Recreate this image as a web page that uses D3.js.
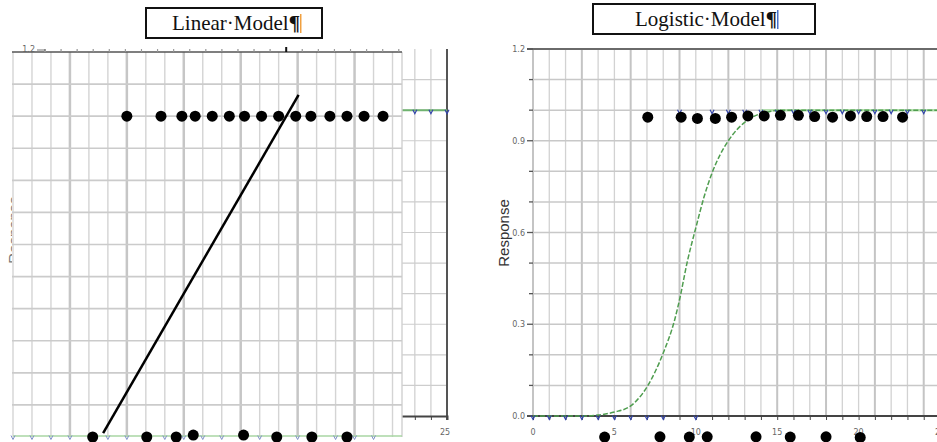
<!DOCTYPE html>
<html>
<head>
<meta charset="utf-8">
<script src="https://cdn.jsdelivr.net/npm/d3@7"></script>
<style>
  body { margin: 0; background: #fff; }
  svg { display: block; }
  .tick-label { font-family: "DejaVu Sans", sans-serif; font-size: 8px; fill: #666; }
  .title { font-family: "Liberation Serif", serif; font-size: 21px; fill: #111; }
  .ylab { font-family: "Liberation Sans", Arial, sans-serif; font-size: 15px; fill: #333; }
</style>
</head>
<body>
<svg id="chart" width="937" height="442"></svg>
<script>
// ---- values ----

// linear model panel (units of its own grid)
var linTopX = [6.0, 7.8, 8.9, 9.6, 10.5, 11.4, 12.2, 13.1, 14.0, 14.9, 15.7, 16.7, 17.6, 18.5, 19.5];
var linTopY = [1.0, 1.0, 1.0, 1.0, 1.0, 1.0, 1.0, 1.0, 1.0, 1.0, 1.0, 1.0, 1.0, 1.0, 1.0];
var linBotX = [4.2, 7.05, 8.6, 9.5, 12.15, 13.9, 15.75, 17.6];
var linBotY = [0, 0, 0, 0.006, 0.006, 0, 0, 0];
var linFitX = [4.75, 15.05];
var linFitY = [0.012, 1.066];
var linMarkX = [0, 1, 2, 3, 5, 6, 8, 9, 10, 11, 13, 15, 17, 18, 19];
// the bit of the older chart that shows to the right of the linear grid
var edgeMarkX = [23, 24, 25];

// logistic model panel
var logTopX = [7.05, 9.1, 10.1, 11.2, 12.2, 13.2, 14.2, 15.2, 16.3, 17.3, 18.4, 19.5, 20.5, 21.5, 22.7];
var logTopY = [0.977, 0.977, 0.973, 0.973, 0.977, 0.981, 0.981, 0.983, 0.983, 0.979, 0.977, 0.981, 0.979, 0.979, 0.977];
var logBotX = [4.4, 7.8, 9.6, 10.7, 13.7, 15.8, 18.0, 20.1];
var logBotY = [-0.069, -0.068, -0.069, -0.068, -0.068, -0.069, -0.068, -0.07];
var curveX = [0, 1, 2, 3, 4, 5, 6, 7, 8, 8.7, 9, 9.5, 10, 10.5, 11, 11.5, 12, 12.5, 13, 13.5, 14.5, 15, 18, 22, 25];
var curveY = [0, 0, 0, 0, 0.003, 0.013, 0.033, 0.095, 0.206, 0.314, 0.38, 0.51, 0.615, 0.715, 0.795, 0.855, 0.9, 0.935, 0.96, 0.978, 0.995, 1, 1, 1, 1];
var markLowX = [0, 1, 2, 3, 4, 5, 6, 7, 8, 10];
var markHighX = [9, 11, 12, 13, 14, 15, 16, 17, 18, 19, 20, 21, 22, 23, 24, 25];
var yTickLabels = [0, 0.3, 0.6, 0.9, 1.2];
var xTickLabels = [0, 5, 10, 15, 20, 25];

var svg = d3.select("#chart");
var gridColor = "#cdcdcd";
var markPath = "M-2,-2.5L0,1.5L2,-2.5";

// ---------------- left: linear model ----------------
var left = svg.append("g");

// chart lying underneath the linear grid
var xB = d3.scaleLinear().domain([0, 25]).range([45, 447]);
var yB = d3.scaleLinear().domain([0, 1.2]).range([416, 49]);

// cut off axis title of the underlying chart
left.append("text")
    .attr("class", "ylab")
    .attr("transform", "translate(19,230) rotate(-90)")
    .attr("text-anchor", "middle")
    .style("fill", "#777")
    .text("Response");

left.append("g").selectAll("line")
    .data(d3.range(0, 26))
  .enter().append("line")
    .attr("x1", function(d) { return xB(d); })
    .attr("x2", function(d) { return xB(d); })
    .attr("y1", yB(1.2)).attr("y2", yB(0))
    .style("stroke", gridColor).style("stroke-width", 1.2);

left.append("g").selectAll("line")
    .data(d3.range(1, 12))
  .enter().append("line")
    .attr("x1", xB(0)).attr("x2", xB(25))
    .attr("y1", function(d) { return yB(d / 10); })
    .attr("y2", function(d) { return yB(d / 10); })
    .style("stroke", gridColor).style("stroke-width", 1.2);

left.append("line")
    .attr("x1", xB(25)).attr("x2", xB(25))
    .attr("y1", yB(1.2)).attr("y2", yB(0) + 4)
    .style("stroke", "#555").style("stroke-width", 2);

left.append("g")
    .attr("transform", "translate(0," + yB(0) + ")")
    .call(d3.axisBottom(xB).tickValues(d3.range(0, 26)).tickSize(4).tickFormat(""))
    .call(function(g) {
      g.select(".domain").style("stroke", "#444").style("stroke-width", 2);
      g.selectAll(".tick line").style("stroke", "#444");
    });

left.append("text")
    .attr("class", "tick-label")
    .attr("x", xB(25) - 2).attr("y", yB(0) + 19)
    .attr("text-anchor", "middle")
    .text("25");

left.append("line")
    .attr("x1", xB(22)).attr("x2", xB(25))
    .attr("y1", yB(1)).attr("y2", yB(1))
    .style("stroke", "#6fb36f").style("stroke-width", 2);

left.append("g").selectAll("path")
    .data(edgeMarkX)
  .enter().append("path")
    .attr("transform", function(d) { return "translate(" + xB(d) + "," + (yB(1) + 2) + ")"; })
    .attr("d", markPath)
    .style("fill", "none").style("stroke", "#3344aa").style("stroke-width", 1.2);

// the linear model grid on top
var xL = d3.scaleLinear().domain([0, 20.5]).range([13, 402]);
var yL = d3.scaleLinear().domain([0, 1.2]).range([437, 52]);

left.append("rect")
    .attr("x", xL(0) - 1).attr("y", yL(1.2))
    .attr("width", xL(20.5) - xL(0) + 1)
    .attr("height", yL(0) - yL(1.2) + 5)
    .style("fill", "#fff");

left.append("g").selectAll("line")
    .data(d3.range(0, 21))
  .enter().append("line")
    .attr("x1", function(d) { return xL(d); })
    .attr("x2", function(d) { return xL(d); })
    .attr("y1", yL(1.2)).attr("y2", yL(0))
    .style("stroke", function(d) { return d % 3 === 0 && d > 0 ? "#c6c6c6" : "#d4d4d4"; })
    .style("stroke-width", function(d) { return d % 3 === 0 && d > 0 ? 2.5 : 1.4; });

left.append("line")
    .attr("x1", xL(20.5)).attr("x2", xL(20.5))
    .attr("y1", yL(1.2)).attr("y2", yL(0))
    .style("stroke", "#d0d0d0").style("stroke-width", 1.4);

left.append("g").selectAll("line")
    .data(d3.range(1, 12))
  .enter().append("line")
    .attr("x1", xL(0) - 1).attr("x2", xL(20.5))
    .attr("y1", function(d) { return yL(d / 10); })
    .attr("y2", function(d) { return yL(d / 10); })
    .style("stroke", "#cbcbcb").style("stroke-width", 1.6);

// top edge with the ticks of the chart below
left.append("line")
    .attr("x1", xL(0) - 1).attr("x2", xL(20.5))
    .attr("y1", yL(1.2)).attr("y2", yL(1.2))
    .style("stroke", "#555").style("stroke-width", 1.6);

left.append("g").selectAll("line")
    .data(d3.range(0, 23))
  .enter().append("line")
    .attr("x1", function(d) { return xB(d); })
    .attr("x2", function(d) { return xB(d); })
    .attr("y1", yL(1.2))
    .attr("y2", function(d) { return d === 15 ? yL(1.2) - 5 : yL(1.2) - 3; })
    .style("stroke", function(d) { return d === 15 ? "#111" : "#999"; })
    .style("stroke-width", function(d) { return d === 15 || d === 0 ? 2 : 1; });

left.append("line")
    .attr("x1", xB(0) - 8).attr("x2", xB(0))
    .attr("y1", yB(1.2) + 1).attr("y2", yB(1.2) + 1)
    .style("stroke", "#777").style("stroke-width", 1);

left.append("text")
    .attr("class", "tick-label")
    .attr("x", xB(0) - 10).attr("y", yB(1.2) + 3)
    .attr("text-anchor", "end")
    .text("1.2");

left.append("line")
    .attr("x1", xL(0)).attr("x2", xL(20.5))
    .attr("y1", yL(0) - 1).attr("y2", yL(0) - 1)
    .style("stroke", "#a9d6a3").style("stroke-width", 1.5);

left.append("g").selectAll("path")
    .data(linMarkX)
  .enter().append("path")
    .attr("transform", function(d) { return "translate(" + xL(d) + "," + (yL(0) + 1) + ")"; })
    .attr("d", markPath)
    .style("fill", "none").style("stroke", "#8090c8").style("stroke-width", 1);

var linFit = linFitX.map(function(d, i) { return {x: d, y: linFitY[i]}; });
left.append("path")
    .datum(linFit)
    .attr("d", d3.line().x(function(d) { return xL(d.x); }).y(function(d) { return yL(d.y); }))
    .style("fill", "none").style("stroke", "#000").style("stroke-width", 2.5);

var linDots = linTopX.map(function(d, i) { return {x: d, y: linTopY[i]}; })
  .concat(linBotX.map(function(d, i) { return {x: d, y: linBotY[i]}; }));
left.append("g").selectAll("circle")
    .data(linDots)
  .enter().append("circle")
    .attr("cx", function(d) { return xL(d.x); })
    .attr("cy", function(d) { return yL(d.y); })
    .attr("r", 5.5)
    .style("fill", "#000");

// ---------------- right: logistic model ----------------
var right = svg.append("g");
var xR = d3.scaleLinear().domain([0, 25]).range([533, 940]);
var yR = d3.scaleLinear().domain([0, 1.2]).range([416, 49]);

right.append("g").selectAll("line")
    .data(d3.range(0, 26))
  .enter().append("line")
    .attr("x1", function(d) { return xR(d); })
    .attr("x2", function(d) { return xR(d); })
    .attr("y1", yR(1.2)).attr("y2", yR(0))
    .style("stroke", function(d) { return d % 3 === 0 ? "#c4c4c4" : "#d2d2d2"; })
    .style("stroke-width", function(d) { return d % 3 === 0 ? 2 : 1.3; });

right.append("g").selectAll("line")
    .data(d3.range(1, 12))
  .enter().append("line")
    .attr("x1", xR(0)).attr("x2", 937)
    .attr("y1", function(d) { return yR(d / 10); })
    .attr("y2", function(d) { return yR(d / 10); })
    .style("stroke", "#c8c8c8").style("stroke-width", 1.5);

right.append("line")
    .attr("x1", xR(0) - 6).attr("x2", 937)
    .attr("y1", yR(1.2)).attr("y2", yR(1.2))
    .style("stroke", "#6a6a6a").style("stroke-width", 2);

right.append("g")
    .attr("transform", "translate(0," + yR(0) + ")")
    .call(d3.axisBottom(xR).tickValues(d3.range(0, 26)).tickSize(4).tickFormat(""))
    .call(function(g) {
      g.select(".domain").attr("d", "M" + (xR(0) - 6) + ",0H937").style("stroke", "#444").style("stroke-width", 2);
      g.selectAll(".tick line").style("stroke", "#444");
    });

right.append("g").selectAll("text")
    .data(xTickLabels)
  .enter().append("text")
    .attr("class", "tick-label")
    .attr("x", function(d) { return xR(d); })
    .attr("y", yR(0) + 19)
    .attr("text-anchor", "middle")
    .text(function(d) { return d; });

right.append("g").selectAll("line")
    .data(d3.range(0, 13))
  .enter().append("line")
    .attr("x1", function(d) { return d % 3 === 0 ? xR(0) - 6 : xR(0) - 4; })
    .attr("x2", xR(0))
    .attr("y1", function(d) { return yR(d / 10); })
    .attr("y2", function(d) { return yR(d / 10); })
    .style("stroke", "#555").style("stroke-width", 1.3);

right.append("g").selectAll("text")
    .data(yTickLabels)
  .enter().append("text")
    .attr("class", "tick-label")
    .attr("x", xR(0) - 8)
    .attr("y", function(d) { return yR(d) + 3; })
    .attr("text-anchor", "end")
    .text(function(d) { return d.toFixed(1); });

right.append("text")
    .attr("class", "ylab")
    .attr("transform", "translate(509,233) rotate(-90)")
    .attr("text-anchor", "middle")
    .text("Response");

right.append("line")
    .attr("x1", xR(14)).attr("x2", 937)
    .attr("y1", yR(1)).attr("y2", yR(1))
    .style("stroke", "#b5dfae").style("stroke-width", 2.5);

var curve = curveX.map(function(d, i) { return {x: d, y: curveY[i]}; });
right.append("path")
    .datum(curve)
    .attr("d", d3.line().curve(d3.curveMonotoneX)
      .x(function(d) { return xR(d.x); })
      .y(function(d) { return yR(d.y); }))
    .style("fill", "none").style("stroke", "#4f9d4f")
    .style("stroke-width", 1.5).style("stroke-dasharray", "5,2");

right.append("g").selectAll("path")
    .data(markLowX.map(function(d) { return {x: d, y: 0}; })
      .concat(markHighX.map(function(d) { return {x: d, y: 1}; })))
  .enter().append("path")
    .attr("transform", function(d) { return "translate(" + xR(d.x) + "," + (yR(d.y) + 2) + ")"; })
    .attr("d", markPath)
    .style("fill", "none").style("stroke", "#3344aa").style("stroke-width", 1.2);

var logDots = logTopX.map(function(d, i) { return {x: d, y: logTopY[i]}; })
  .concat(logBotX.map(function(d, i) { return {x: d, y: logBotY[i]}; }));
right.append("g").selectAll("circle")
    .data(logDots)
  .enter().append("circle")
    .attr("cx", function(d) { return xR(d.x); })
    .attr("cy", function(d) { return yR(d.y); })
    .attr("r", 5.5)
    .style("fill", "#000");

// ---------------- title boxes ----------------
function titleBox(x, y, w, h, label, barColor) {
  var g = svg.append("g");
  g.append("rect")
      .attr("x", x).attr("y", y).attr("width", w).attr("height", h)
      .style("fill", "#fff").style("stroke", "#111").style("stroke-width", 2);
  var t = g.append("text")
      .attr("class", "title")
      .attr("x", x + w / 2 + 2).attr("y", y + h / 2 + 7)
      .attr("text-anchor", "middle");
  t.append("tspan").text(label);
  t.append("tspan").style("font-weight", "bold").text("\u00b6");
  var bb = t.node().getBBox();
  g.append("rect")
      .attr("x", bb.x + bb.width).attr("y", y + 6)
      .attr("width", 1.5).attr("height", h - 11)
      .style("fill", barColor);
}
titleBox(146, 8, 176, 30, "Linear\u00b7Model", "#f0a040");
titleBox(593, 4, 222, 30, "Logistic\u00b7Model", "#4a70c8");
</script>
</body>
</html>
